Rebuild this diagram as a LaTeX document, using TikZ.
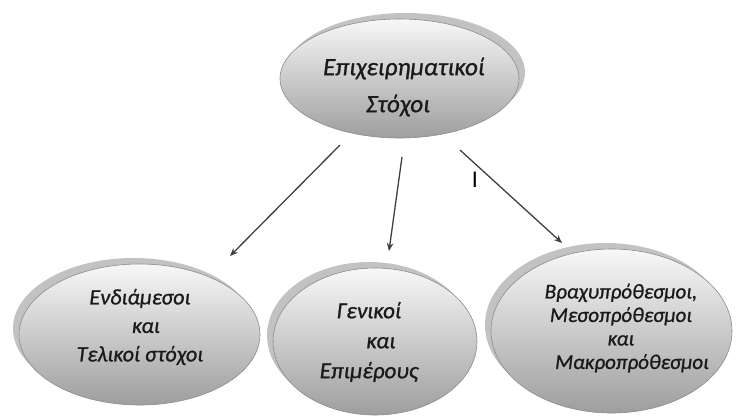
\documentclass[tikz,border=0pt]{standalone}
\usepackage{fontspec}
\setmainfont{Carlito}
\newfontfamily\capfont{Carlito Italic}[FakeBold=1]
\usetikzlibrary{shapes.geometric,arrows.meta,shadows}

\definecolor{inkgray}{HTML}{1A1A1A}
\definecolor{arrowgray}{HTML}{404040}
\definecolor{rimgray}{HTML}{8C8C8C}
\definecolor{shadowgray}{HTML}{C2C2C2}

\tikzset{
  oval/.style={ellipse, draw=rimgray, line width=0.6pt,
    top color=black!3, bottom color=black!38,
    inner sep=0pt, outer sep=0pt},
  shadowNE/.style={drop shadow={shadow xshift=6pt, shadow yshift=6pt,
    fill=shadowgray, opacity=1}},
  shadowNW/.style={drop shadow={shadow xshift=-6pt, shadow yshift=6pt,
    fill=shadowgray, opacity=1}},
  caption/.style={align=center, text=inkgray, inner sep=0pt},
  link/.style={draw=arrowgray, line width=1.3pt,
    -{Stealth[length=8pt, width=6.5pt]}}
}

\begin{document}
\begin{tikzpicture}[x=1pt, y=-1pt]
  \useasboundingbox[fill=white] (0,0) rectangle (736,416);

  % goal ovals
  \node[oval, shadowNE, minimum width=239pt, minimum height=119pt] (top) at (399.5,78.5) {};
  \node[oval, shadowNW, minimum width=241pt, minimum height=141pt] (left) at (139.5,334.5) {};
  \node[oval, shadowNW, minimum width=204pt, minimum height=147pt] (mid) at (375,341.5) {};
  \node[oval, shadowNW, minimum width=241pt, minimum height=164pt] (right) at (611.5,331) {};

  % captions
  \node[caption, font=\capfont\fontsize{25}{37}\selectfont] (topT) at (404,87)
    {Επιχειρηματικοί\\Στόχοι\hspace*{12pt}};
  \node[caption, font=\capfont\fontsize{22}{28.5}\selectfont] (leftT) at (140,327)
    {Ενδιάμεσοι\\\hspace*{12pt}και\\Τελικοί στόχοι};
  \node[caption, font=\capfont\fontsize{23}{30}\selectfont] (midT) at (369,342)
    {Γενικοί\\\hspace*{24pt}και\\Επιμέρους};
  \node[caption, font=\capfont\fontsize{21}{23.5}\selectfont] (rightT) at (621,328)
    {Βραχυπρόθεσμοι,\\Μεσοπρόθεσμοι\\και\\\hspace*{22pt}Μακροπρόθεσμοι};

  % arrow ends
  \coordinate (a1s) at (340,145);
  \coordinate (a1e) at (230,256);
  \coordinate (a2s) at (402,157);
  \coordinate (a2e) at (389,251);
  \coordinate (a3s) at (460,150);
  \coordinate (a3e) at (562,243);

  \draw[link] (a1s) -- (a1e);
  \draw[link] (a2s) -- (a2e);
  \draw[link] (a3s) -- (a3e);

  % stray mark
  \node[text=black, inner sep=0pt, font=\fontsize{24}{24}\selectfont] (mark) at (475,180) {I};
\end{tikzpicture}
\end{document}
